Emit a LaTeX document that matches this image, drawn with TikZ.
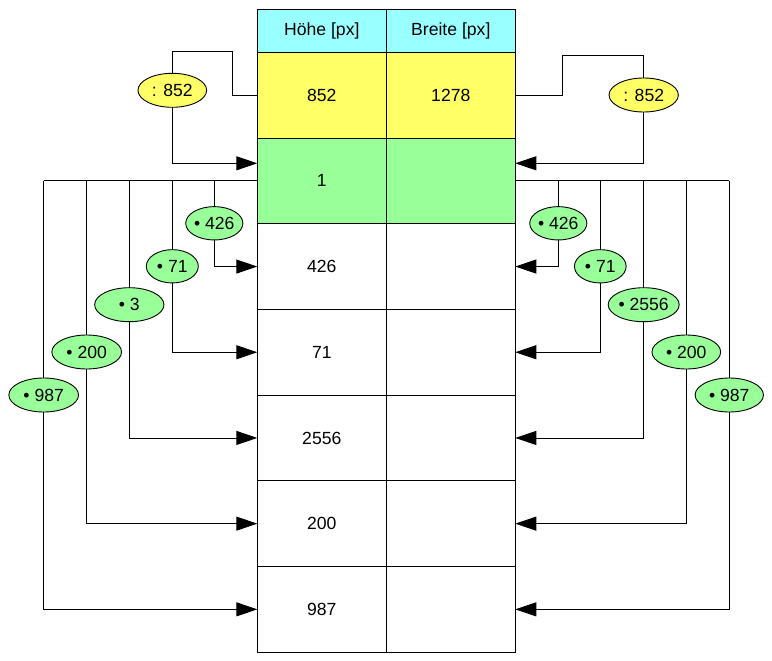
\documentclass[tikz,border=0pt]{standalone}
\usepackage{fontspec}
\setmainfont{Liberation Sans}
\usetikzlibrary{arrows.meta,shapes.geometric}
\definecolor{hdr}{HTML}{99FFFF}
\definecolor{yel}{HTML}{FFFF66}
\definecolor{grn}{HTML}{99FF99}
\begin{document}
\begin{tikzpicture}[x=1pt,y=-1pt,line width=0.9pt,
  font=\fontsize{17.6}{20}\selectfont,
  cell/.style={draw,rectangle,minimum width=129pt,minimum height=85.7pt,inner sep=0pt,outer sep=0pt},
  hcell/.style={cell,minimum height=43pt,fill=hdr},
  oval/.style={draw,ellipse,inner sep=0pt,outer sep=0pt,minimum height=34pt},
  arr/.style={-{Triangle[length=21pt,width=14pt]}}]
\useasboundingbox (0,0) rectangle (772,661);
% table
\node[hcell] (h0) at (321.8,30.8) {Höhe [px]};
\node[hcell] (b0) at (450.8,30.8) {Breite [px]};
\node[cell,fill=yel] (h1) at (321.8,95.15) {852};
\node[cell,fill=yel] (b1) at (450.8,95.15) {1278};
\node[cell,fill=grn] (h2) at (321.8,180.85) {1};
\node[cell,fill=grn] (b2) at (450.8,180.85) {};
\node[cell] (h3) at (321.8,266.55) {426};
\node[cell] (b3) at (450.8,266.55) {};
\node[cell] (h4) at (321.8,352.25) {71};
\node[cell] (b4) at (450.8,352.25) {};
\node[cell] (h5) at (321.8,437.95) {2556};
\node[cell] (b5) at (450.8,437.95) {};
\node[cell] (h6) at (321.8,523.65) {200};
\node[cell] (b6) at (450.8,523.65) {};
\node[cell] (h7) at (321.8,609.35) {987};
\node[cell] (b7) at (450.8,609.35) {};
% ovals
\node[oval,fill=yel,minimum width=68.7pt] (yL) at (172.3,90.3) {: 852};
\node[oval,fill=yel,minimum width=69.3pt] (yR) at (643.7,95) {: 852};
\node[oval,fill=grn,minimum width=51.7pt,minimum height=33.3pt] (gL1) at (214.3,223.3) {• 426};
\node[oval,fill=grn,minimum width=52pt,minimum height=33.3pt] (gL2) at (172.3,266.3) {• 71};
\node[oval,fill=grn,minimum width=69.3pt] (gL3) at (129.3,304.7) {• 3};
\node[oval,fill=grn,minimum width=69.7pt] (gL4) at (86.7,352) {• 200};
\node[oval,fill=grn,minimum width=69.7pt] (gL5) at (43.7,395) {• 987};
\node[oval,fill=grn,minimum width=52.7pt,minimum height=33.3pt] (gR1) at (558.3,223.3) {• 426};
\node[oval,fill=grn,minimum width=51.7pt,minimum height=33.3pt] (gR2) at (600.3,266.3) {• 71};
\node[oval,fill=grn,minimum width=69.3pt] (gR3) at (643.7,304.7) {• 2556};
\node[oval,fill=grn,minimum width=68.7pt] (gR4) at (686.3,352) {• 200};
\node[oval,fill=grn,minimum width=68.3pt] (gR5) at (729.3,395) {• 987};
% helper coordinates
\coordinate (aL) at (h2.west |- 0,163.3);
\coordinate (aR) at (b2.east |- 0,163.3);
% yellow loops
\draw (h1.west) -- (232,95.15) -- (232,51.3) -| (yL.north);
\draw[arr] (yL.south) |- (aL);
\draw (b1.east) -- (562.3,95.15) -- (562.3,55.3) -| (yR.north);
\draw[arr] (yR.south) |- (aR);
% green left
\draw (h2.west) -- (gL5.north |- h2.west);
\foreach \g in {gL1,gL2,gL3,gL4,gL5} \draw (\g.north |- h2.west) -- (\g.north);
\draw[arr] (gL1.south) |- (h3.west);
\draw[arr] (gL2.south) |- (h4.west);
\draw[arr] (gL3.south) |- (h5.west);
\draw[arr] (gL4.south) |- (h6.west);
\draw[arr] (gL5.south) |- (h7.west);
% green right
\draw (b2.east) -- (gR5.north |- b2.east);
\foreach \g in {gR1,gR2,gR3,gR4,gR5} \draw (\g.north |- b2.east) -- (\g.north);
\draw[arr] (gR1.south) |- (b3.east);
\draw[arr] (gR2.south) |- (b4.east);
\draw[arr] (gR3.south) |- (b5.east);
\draw[arr] (gR4.south) |- (b6.east);
\draw[arr] (gR5.south) |- (b7.east);
\end{tikzpicture}
\end{document}
